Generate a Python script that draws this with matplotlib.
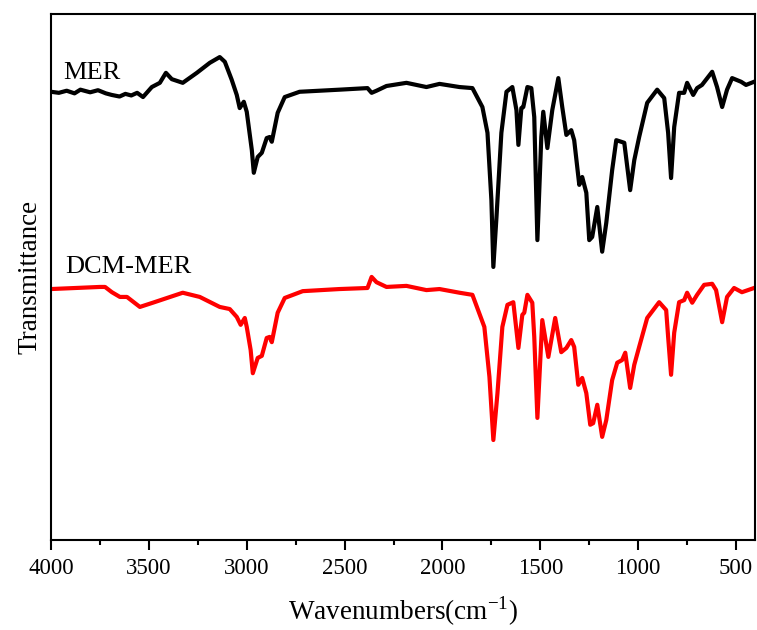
import numpy as np
import matplotlib.pyplot as plt
from matplotlib.ticker import MultipleLocator

# ======= Dane =======
wn_mer = [4000, 3960, 3920, 3880, 3850, 3800, 3760, 3720, 3690, 3650, 3620, 3590, 3560, 3530,
          3485, 3444, 3413, 3383, 3327, 3255, 3189, 3138, 3112, 3077, 3051, 3036, 3015, 3000,
          2974, 2964, 2944, 2923, 2898, 2883, 2872, 2842, 2806, 2730, 2526, 2383, 2362, 2337,
          2286, 2184, 2082, 2015, 1913, 1847, 1796, 1770, 1750, 1740, 1724, 1699, 1673, 1643,
          1622, 1612, 1597, 1587, 1566, 1546, 1531, 1515, 1495, 1485, 1464, 1439, 1408, 1388,
          1367, 1342, 1327, 1301, 1286, 1265, 1250, 1235, 1209, 1184, 1163, 1133, 1112, 1087,
          1071, 1041, 1020, 995, 954, 903, 867, 847, 832, 816, 791, 765, 750, 719, 699, 674,
          622, 597, 571, 546, 520, 474, 449, 408]
t_mer = [85.2, 85.0, 85.4, 84.9, 85.6, 85.1, 85.5, 84.9, 84.6, 84.3, 84.8, 84.5, 85.0, 84.2,
         86.1, 86.9, 88.8, 87.6, 86.9, 88.8, 90.7, 91.8, 90.9, 87.5, 84.6, 82.1, 83.3, 81.4,
         74.1, 69.8, 72.8, 73.6, 76.4, 76.6, 75.7, 81.2, 84.2, 85.2, 85.6, 85.9, 85.0, 85.4,
         86.3, 86.9, 86.1, 86.7, 86.1, 85.9, 82.3, 77.4, 64.6, 51.9, 61.4, 77.4, 85.2, 86.1,
         81.7, 75.1, 82.1, 82.3, 86.1, 85.9, 80.4, 57.0, 76.6, 81.4, 74.5, 81.7, 87.8, 82.3,
         77.0, 77.9, 76.0, 67.5, 69.0, 66.0, 57.0, 57.6, 63.3, 54.8, 60.3, 70.3, 76.0, 75.7,
         75.5, 66.5, 72.2, 76.6, 83.1, 85.6, 84.0, 77.4, 68.8, 78.5, 85.0, 85.0, 86.9, 84.6,
         85.9, 86.5, 89.0, 86.1, 82.3, 85.6, 87.8, 87.1, 86.5, 87.1]

wn_dcm = [4000, 3750, 3724, 3689, 3648, 3612, 3546, 3480, 3327, 3240, 3138, 3087, 3051, 3031,
          3010, 3000, 2980, 2969, 2944, 2923, 2898, 2883, 2872, 2842, 2806, 2714, 2526, 2383,
          2362, 2337, 2286, 2184, 2082, 2015, 1913, 1847, 1786, 1760, 1740, 1719, 1694, 1668,
          1638, 1612, 1592, 1582, 1566, 1541, 1531, 1515, 1490, 1459, 1424, 1393, 1367, 1342,
          1327, 1306, 1286, 1265, 1245, 1230, 1209, 1184, 1163, 1133, 1107, 1082, 1066, 1041,
          1020, 995, 954, 893, 857, 847, 832, 816, 791, 765, 750, 724, 699, 663, 622, 602, 571,
          546, 510, 470, 408]
t_dcm = [47.7, 48.1, 48.1, 47.1, 46.2, 46.2, 44.3, 45.1, 47.0, 46.2, 44.3, 43.9, 42.4, 40.9,
         42.2, 40.5, 36.1, 31.7, 34.6, 35.0, 38.4, 38.6, 37.6, 43.2, 46.0, 47.3, 47.7, 47.9,
         50.0, 49.0, 48.1, 48.3, 47.5, 47.7, 47.0, 46.6, 40.5, 31.0, 19.0, 27.9, 40.5, 44.7,
         45.2, 36.5, 42.8, 43.2, 46.6, 45.1, 38.6, 23.2, 41.8, 34.8, 42.2, 35.7, 36.5, 38.0,
         36.7, 29.5, 30.8, 27.9, 21.9, 22.2, 25.7, 19.6, 22.8, 30.4, 33.7, 34.2, 35.6, 28.9,
         33.3, 36.7, 42.2, 45.2, 43.7, 38.6, 31.4, 39.4, 45.2, 45.6, 47.0, 45.1, 46.6, 48.5,
         48.7, 47.5, 41.4, 46.2, 47.9, 47.1, 47.9]

plt.rcParams["font.family"] = ["Liberation Serif", "DejaVu Serif"]

# ======= Wykres =======
fig = plt.figure(figsize=(7.57, 6.30), dpi=100)
ax = fig.add_axes([0.0674, 0.1429, 0.93, 0.835])

ax.plot(wn_mer, t_mer, color="black", lw=3.0, solid_joinstyle="round")
ax.plot(wn_dcm, t_dcm, color="#ff0000", lw=3.0, solid_joinstyle="round")

ax.text(3939, 87.6, "MER", fontsize=19, va="baseline", ha="left")
ax.text(3930, 50.8, "DCM-MER", fontsize=19, va="baseline", ha="left")

ax.set_xlim(4000, 403)
ax.set_ylim(0, 100)
ax.xaxis.set_major_locator(MultipleLocator(500))
ax.xaxis.set_minor_locator(MultipleLocator(250))
ax.tick_params(axis="x", which="major", direction="out", length=7, width=1.5,
               labelsize=16.5, pad=6)
ax.tick_params(axis="x", which="minor", direction="out", length=3.6, width=1.5)
ax.set_yticks([])
for s in ax.spines.values():
    s.set_linewidth(1.5)

ax.set_xlabel("Wavenumbers(cm$^{\\mathregular{-1}}$)", fontsize=19.5, labelpad=11)
ax.set_ylabel("Transmittance", fontsize=19.5, labelpad=6)

fig.savefig("out.png", dpi=100)
